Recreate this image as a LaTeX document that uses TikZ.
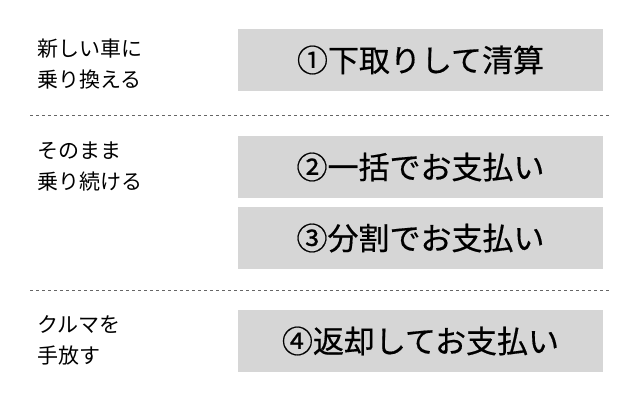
\documentclass[tikz,border=0pt]{standalone}
\usepackage{fontspec}
\setmainfont{Noto Sans CJK JP}
\newfontfamily\planfont{Noto Sans CJK JP}[FakeBold=0.5]
\usetikzlibrary{positioning}
\definecolor{boxgray}{RGB}{214,214,214}
\begin{document}
\begin{tikzpicture}[x=1pt,y=-1pt,
    plan/.style={fill=boxgray,minimum width=365pt,minimum height=62pt,font=\planfont\fontsize{31}{34}\selectfont,inner sep=0pt},
    case/.style={anchor=west,align=left,font=\fontsize{21}{31}\selectfont,inner sep=0pt},
    sep/.style={dashed,gray!80!black,line width=0.8pt}]
  \useasboundingbox (0,0) rectangle (641,400);
  % left labels
  \node[case] (caseA) at (37,64) {新しい車に\\乗り換える};
  \node[case] (caseB) at (37,167) {そのまま\\乗り続ける};
  \node[case] (caseC) at (37,340) {クルマを\\手放す};
  % plans
  \node[plan] (planA) at (420.5,60) {①下取りして清算};
  \node[plan] (planB) at (420.5,167) {②一括でお支払い};
  \node[plan] (planC) at (420.5,238) {③分割でお支払い};
  \node[plan] (planD) at (420.5,341) {④返却してお支払い};
  % separators
  \coordinate (sepA0) at (30,115);
  \coordinate (sepA1) at (610,115);
  \coordinate (sepB0) at (30,290);
  \coordinate (sepB1) at (610,290);
  \draw[sep] (sepA0) -- (sepA1);
  \draw[sep] (sepB0) -- (sepB1);
\end{tikzpicture}
\end{document}
